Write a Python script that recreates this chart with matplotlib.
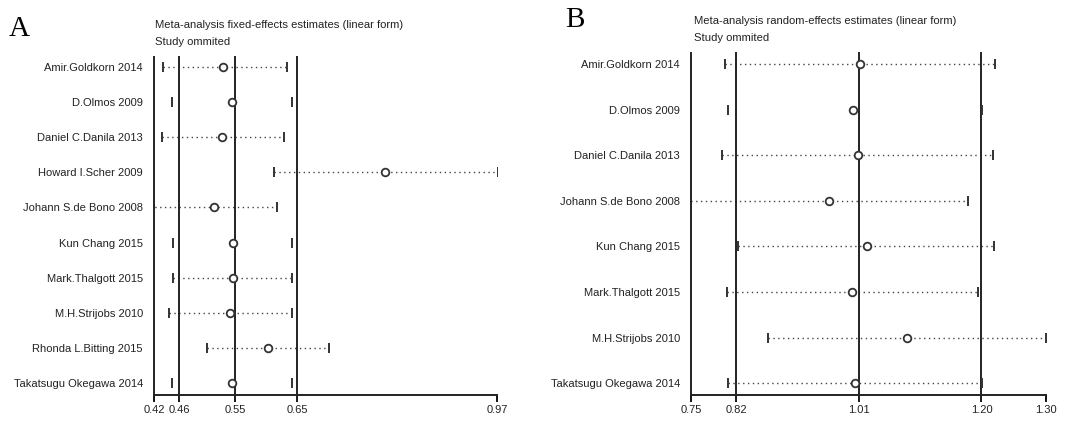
import numpy as np
import matplotlib
matplotlib.use("Agg")
import matplotlib.pyplot as plt

plt.rcParams['font.family'] = ['Liberation Sans', 'DejaVu Sans']

# panel A - fixed effects, one study omitted at a time
studies_a = ['Amir.Goldkorn 2014', 'D.Olmos 2009', 'Daniel C.Danila 2013',
             'Howard I.Scher 2009', 'Johann S.de Bono 2008', 'Kun Chang 2015',
             'Mark.Thalgott 2015', 'M.H.Strijobs 2010', 'Rhonda L.Bitting 2015',
             'Takatsugu Okegawa 2014']
est_a = [0.531, 0.545, 0.529, 0.790, 0.516, 0.547, 0.547, 0.542, 0.602, 0.545]
low_a = [0.434, 0.449, 0.433, 0.612, 0.405, 0.450, 0.450, 0.444, 0.505, 0.449]
up_a = [0.633, 0.641, 0.628, 0.972, 0.617, 0.642, 0.642, 0.642, 0.700, 0.642]
ticks_a = [0.42, 0.46, 0.55, 0.65, 0.97]
ref_a = [0.46, 0.55, 0.65]
dots_a = [True, False, True, True, True, False, True, True, True, False]

# panel B - random effects
studies_b = ['Amir.Goldkorn 2014', 'D.Olmos 2009', 'Daniel C.Danila 2013',
             'Johann S.de Bono 2008', 'Kun Chang 2015', 'Mark.Thalgott 2015',
             'M.H.Strijobs 2010', 'Takatsugu Okegawa 2014']
est_b = [1.012, 1.001, 1.009, 0.964, 1.023, 0.999, 1.085, 1.004]
low_b = [0.803, 0.807, 0.798, 0.735, 0.823, 0.806, 0.869, 0.807]
up_b = [1.221, 1.201, 1.218, 1.179, 1.220, 1.195, 1.300, 1.201]
ticks_b = [0.75, 0.82, 1.01, 1.20, 1.30]
ref_b = [0.82, 1.01, 1.20]
dots_b = [True, False, True, True, True, True, True, True]

fig = plt.figure(figsize=(10.67, 4.21), dpi=100)
txt = '#222222'


def draw_panel(ax, names, est, low, up, ticks, refs, dots, pad_top, pad_bot):
    n = len(names)
    y = np.arange(n)
    for i in range(n):
        if dots[i]:
            ax.plot([low[i], up[i]], [y[i], y[i]], ls=(0, (1, 2.5)),
                    color='#444444', lw=1.0, zorder=1)
    ax.plot(low, y, ls='none', marker='|', ms=7.5, mew=1.4, color='#333333', zorder=3)
    ax.plot(up, y, ls='none', marker='|', ms=7.5, mew=1.4, color='#333333', zorder=3)
    ax.plot(est, y, ls='none', marker='o', ms=5.5, mfc='white', mec='#333333',
            mew=1.3, zorder=4)
    for r in refs:
        ax.axvline(r, color='#222222', lw=1.4, zorder=2, clip_on=False, ymin=-0.015)
    ax.set_xlim(ticks[0], ticks[-1])
    ax.set_ylim(n - 1 + pad_bot, -pad_top)
    ax.set_yticks(y)
    ax.set_yticklabels(names, fontsize=8, color=txt)
    ax.set_xticks(ticks)
    ax.set_xticklabels(['%.2f' % t for t in ticks], fontsize=8, color=txt)
    ax.tick_params(axis='y', length=0, pad=8)
    ax.tick_params(axis='x', length=5, width=1.3, direction='out', pad=2)
    for s in ['top', 'right']:
        ax.spines[s].set_visible(False)
    for s in ['left', 'bottom']:
        ax.spines[s].set_linewidth(1.4)
        ax.spines[s].set_color('#222222')


ax1 = fig.add_axes([154 / 1067, 1 - 395 / 421, (497 - 154) / 1067, (395 - 57) / 421])
draw_panel(ax1, studies_a, est_a, low_a, up_a, ticks_a, ref_a, dots_a, 0.28, 0.34)

ax2 = fig.add_axes([691 / 1067, 1 - 395 / 421, (1046 - 691) / 1067, (395 - 53) / 421])
draw_panel(ax2, studies_b, est_b, low_b, up_b, ticks_b, ref_b, dots_b, 0.24, 0.26)

fig.text(155 / 1067, 1 - 25 / 421, 'Meta-analysis fixed-effects estimates (linear form)',
         fontsize=8.1, color=txt, va='center')
fig.text(155 / 1067, 1 - 42 / 421, 'Study ommited', fontsize=8.1, color=txt, va='center')
fig.text(694 / 1067, 1 - 21 / 421, 'Meta-analysis random-effects estimates (linear form)',
         fontsize=8.1, color=txt, va='center')
fig.text(694 / 1067, 1 - 38 / 421, 'Study ommited', fontsize=8.1, color=txt, va='center')

fig.text(9 / 1067, 1 - 29 / 421, 'A', fontsize=21, family='Liberation Serif', va='center')
fig.text(565 / 1067, 1 - 20 / 421, 'B', fontsize=21, family='Liberation Serif', va='center')

fig.savefig('out.png', dpi=100)
